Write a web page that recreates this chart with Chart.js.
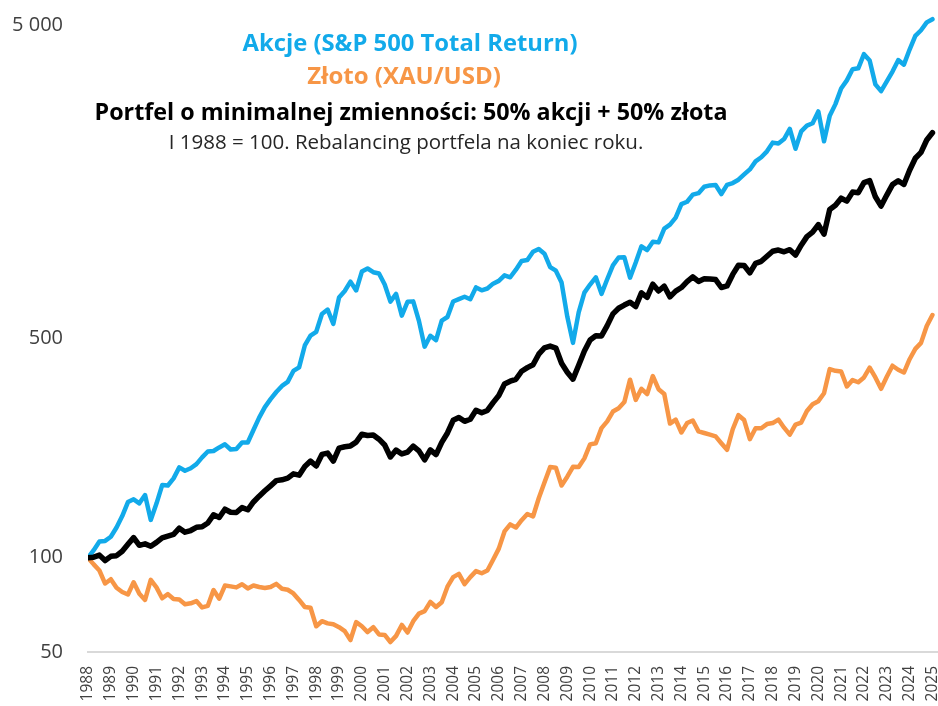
<!DOCTYPE html>
<html>
<head>
<meta charset="utf-8">
<script src="https://cdn.jsdelivr.net/npm/chart.js@4.4.1/dist/chart.umd.min.js"></script>
<style>
  html, body { margin: 0; padding: 0; background: #fff; }
</style>
</head>
<body>
<canvas id="chart" width="938" height="706"></canvas>
<script>
// I 1988 = 100, dane kwartalne
const startYear = 1988;
const yearLabels = [1988, 1989, 1990, 1991, 1992, 1993, 1994, 1995, 1996, 1997, 1998, 1999,
  2000, 2001, 2002, 2003, 2004, 2005, 2006, 2007, 2008, 2009, 2010, 2011, 2012, 2013,
  2014, 2015, 2016, 2017, 2018, 2019, 2020, 2021, 2022, 2023, 2024, 2025];
const yTicks = [50, 100, 500, 5000];

// Akcje (S&P 500 Total Return)
const stocks = [
  100, 105.7, 112.7, 113.1,
  116.6, 124.8, 135.8, 150.5,
  153.6, 149.1, 158.5, 132,
  148.8, 170.5, 170.0, 179.1,
  194.2, 189.4, 192.9, 198.9,
  209.0, 218.2, 219.1, 224.9,
  230.1, 221.5, 222.4, 233.2,
  233.1, 255.7, 280.0, 302.5,
  320.7, 338.0, 353.4, 364.0,
  394.5, 405.1, 475.7, 511.5,
  526.2, 599.7, 619.4, 557.7,
  676.7, 710.1, 760.5, 712.7,
  818.8, 837.6, 815.3, 807.4,
  744.3, 656.5, 694.7, 592.6,
  655.7, 657.9, 570.0, 471.6,
  510.8, 495.0, 571.1, 586.5,
  657.4, 669.1, 680.5, 668.1,
  729.1, 713.8, 723.2, 749.4,
  764.8, 797.0, 785.4, 830.4,
  885.6, 891.3, 947.9, 967.0,
  934.3, 846.8, 824.1, 755.7,
  588.6, 485, 606.4, 701.6,
  744.6, 785.1, 695.3, 774.0,
  857, 908, 910, 783,
  875, 986, 959, 1020,
  1015, 1123, 1156, 1217,
  1344, 1368, 1441, 1457,
  1528, 1543, 1548, 1448,
  1549, 1570, 1609, 1672,
  1735, 1841, 1897, 1982,
  2113, 2098, 2169, 2337,
  2020, 2295, 2395, 2436,
  2657, 2135, 2573, 2804,
  3145, 3339, 3625, 3647,
  4048, 3865, 3242, 3084,
  3315, 3562, 3874, 3748,
  4187, 4629, 4826, 5112,
  5234
];

// Złoto (XAU/USD)
const gold = [
  100, 95.2, 91.0, 82.7,
  85.4, 80.2, 77.7, 76.3,
  83.5, 76.7, 73.3, 85.0,
  80.4, 74.2, 76.5, 73.8,
  73.5, 71.0, 71.5, 72.7,
  69.4, 70.2, 78.8, 74.0,
  81.5, 81.0, 80.4, 82.3,
  79.8, 81.5, 80.6, 80.0,
  80.6, 82.5, 79.6, 79.0,
  76.9, 73.3, 69.6, 69.2,
  60.4, 62.7, 61.7, 61.3,
  60.0, 58.3, 54.6, 62.3,
  60.4, 57.9, 60.0, 56.9,
  56.7, 53.8, 56.3, 61.0,
  57.7, 62.7, 66.3, 67.5,
  72.3, 69.6, 72.1, 80.8,
  86.7, 88.8, 82.3, 86.7,
  90.6, 89.2, 91.0, 98.5,
  106.9, 121.3, 127.7, 124.8,
  131.7, 137.9, 135.4, 154.8,
  173.8, 194.6, 193.8, 170,
  181.3, 195, 194.6, 207.5,
  230, 231.9, 259.2, 272.3,
  292.7, 299.8, 313.8, 370,
  319, 346, 333, 380,
  345, 333, 268, 276,
  251, 269, 274, 253,
  250, 247, 244, 232,
  221, 257, 285, 275,
  239, 259, 259, 267,
  269, 276, 260, 247,
  266, 270, 294, 309,
  316, 335, 400, 395,
  393, 352, 369, 363,
  376, 404, 376, 346,
  378, 410, 398, 390,
  430, 464, 485, 549,
  595
];

// Portfel 50% akcji + 50% złota
const portfolio = [
  100, 100.4, 101.9, 97.9,
  101.0, 101.5, 104.8, 110.3,
  115.9, 109.5, 110.7, 108.8,
  111.9, 115.7, 117.2, 118.7,
  124.2, 120.6, 122.1, 125.0,
  125.5, 129.0, 137.0, 134.4,
  142.8, 139.7, 139.4, 144.5,
  142.2, 150.6, 157.2, 163.5,
  169.6, 176.2, 177.2, 179.4,
  185.2, 183.4, 195.5, 203.4,
  196.2, 213.6, 215.7, 203.5,
  223.6, 226.0, 227.4, 233.8,
  247.8, 245.5, 246.5, 238.9,
  228.9, 209.6, 220.5, 214.3,
  217.3, 227.1, 219.3, 205.2,
  220.8, 213.3, 233.5, 250.1,
  274.5, 280.3, 272.4, 276.7,
  295.6, 290.2, 295.1, 312.6,
  329.4, 358.5, 365.9, 371.1,
  393.6, 404.1, 413.0, 446.2,
  467.4, 473.5, 466.7, 417.6,
  391.0, 371.4, 411.3, 456.8,
  495.3, 510.8, 510.4, 550.6,
  600.2, 625.5, 640.2, 653.6,
  633.5, 700.3, 677.7, 746.5,
  710.0, 735.4, 680.1, 709.6,
  728.3, 760.9, 787.9, 761.8,
  776.7, 775.9, 772.4, 728.4,
  737.0, 802.0, 858.0, 856.3,
  811.3, 870.0, 883.1, 916.6,
  950.6, 959.6, 947.3, 962.1,
  924.4, 994.3, 1058.9, 1094.3,
  1157.1, 1078.2, 1292.6, 1333.0,
  1404.4, 1374.5, 1468.7, 1462.9,
  1575.6, 1598.7, 1418.8, 1325.2,
  1437.1, 1551.5, 1596.3, 1553.8,
  1724.9, 1884.1, 1966.9, 2154.1,
  2271.5
];

const titleLines = [
  { text: 'Akcje (S&P 500 Total Return)', color: '#12aaea', bold: true, size: 23.8, x: 410, y: 44 },
  { text: 'Złoto (XAU/USD)', color: '#f79646', bold: true, size: 24, x: 404, y: 77 },
  { text: 'Portfel o minimalnej zmienności: 50% akcji + 50% złota', color: '#000000', bold: true, size: 23.3, x: 411, y: 113 },
  { text: 'I 1988 = 100. Rebalancing portfela na koniec roku.', color: '#262626', bold: false, size: 20.5, x: 406, y: 143 }
];

const FONT = "'Open Sans', 'Liberation Sans', sans-serif";

const toPoints = (arr) => arr.map((v, i) => ({ x: startYear + i / 4, y: v }));

// napisy tytułowe w środku wykresu
const titlePlugin = {
  id: 'titleLines',
  afterDraw(chart) {
    const ctx = chart.ctx;
    ctx.save();
    ctx.textAlign = 'center';
    ctx.textBaseline = 'middle';
    titleLines.forEach(t => {
      ctx.font = (t.bold ? 'bold ' : '') + t.size + 'px ' + FONT;
      ctx.fillStyle = t.color;
      ctx.fillText(t.text, t.x, t.y);
    });
    ctx.restore();
  }
};

const formatTick = (v) => String(v).replace(/\B(?=(\d{3})+(?!\d))/g, ' ');

new Chart(document.getElementById('chart'), {
  type: 'line',
  data: {
    datasets: [
      {
        label: 'Portfel o minimalnej zmienności: 50% akcji + 50% złota',
        data: toPoints(portfolio),
        borderColor: '#000000',
        borderWidth: 5.5
      },
      {
        label: 'Akcje (S&P 500 Total Return)',
        data: toPoints(stocks),
        borderColor: '#12aaea',
        borderWidth: 4.5
      },
      {
        label: 'Złoto (XAU/USD)',
        data: toPoints(gold),
        borderColor: '#f79646',
        borderWidth: 4.5
      }
    ]
  },
  options: {
    responsive: false,
    animation: false,
    devicePixelRatio: 1,
    elements: {
      point: { radius: 0 },
      line: { tension: 0, borderJoinStyle: 'round', borderCapStyle: 'round' }
    },
    layout: { padding: { top: 10, right: 1, left: 0, bottom: 0 } },
    plugins: {
      legend: { display: false },
      tooltip: { enabled: false }
    },
    scales: {
      x: {
        type: 'linear',
        min: 1988,
        max: 2025.2,
        grid: { display: false },
        border: { display: true, color: '#d9d9d9', width: 2 },
        afterBuildTicks: (scale) => {
          scale.ticks = yearLabels.map(v => ({ value: v }));
        },
        afterFit: (scale) => {
          scale.height = 54;
          scale.paddingLeft = 0;
          scale.paddingRight = 0;
        },
        ticks: {
          autoSkip: false,
          minRotation: 90,
          maxRotation: 90,
          padding: 6,
          color: '#404040',
          font: { family: FONT, size: 15.5 },
          callback: (v) => String(v)
        }
      },
      y: {
        type: 'logarithmic',
        min: 50,
        max: 5600,
        grid: { display: false },
        border: { display: false },
        afterBuildTicks: (scale) => {
          scale.ticks = yTicks.map(v => ({ value: v }));
        },
        afterFit: (scale) => {
          scale.width = 88;
          scale.paddingTop = 0;
          scale.paddingBottom = 0;
        },
        ticks: {
          padding: 17,
          color: '#404040',
          font: { family: FONT, size: 20 },
          callback: (v) => formatTick(v)
        }
      }
    }
  },
  plugins: [titlePlugin]
});
</script>
</body>
</html>
